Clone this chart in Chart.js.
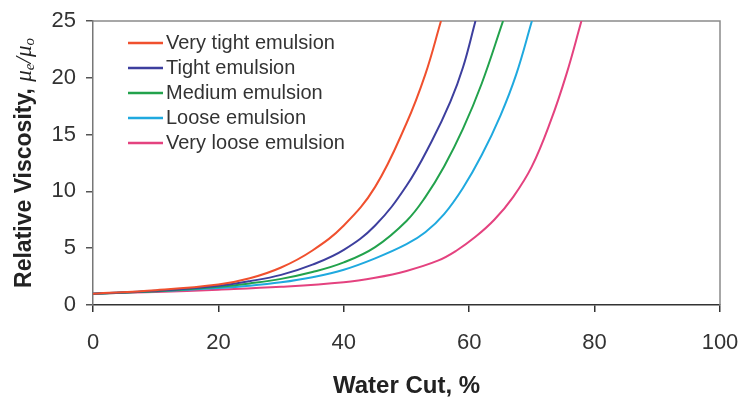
<!DOCTYPE html>
<html>
<head>
<meta charset="utf-8">
<script src="https://cdn.jsdelivr.net/npm/chart.js@4/dist/chart.umd.min.js"></script>
<style>
  html, body { margin: 0; padding: 0; background: #fff; }
  #wrap { width: 743px; height: 398px; }
</style>
</head>
<body>
<div id="wrap"><canvas id="c" width="743" height="398"></canvas></div>
<script>
// Relative viscosity of water-in-oil emulsions versus water cut
const seriesNames = ['Very tight emulsion', 'Tight emulsion', 'Medium emulsion', 'Loose emulsion', 'Very loose emulsion'];
const seriesColors = ['#f0502e', '#3d3f9e', '#22a24c', '#1fa9df', '#e4427f'];

const veryTightCut  = [0, 10, 20, 25, 30, 35, 40, 45, 50, 53, 55.5];
const veryTightVisc = [1, 1.3, 1.8, 2.35, 3.3, 4.8, 7.0, 10.4, 16.0, 20.3, 25];

const tightCut  = [0, 10, 20, 25, 30, 35, 40, 45, 50, 54, 57, 59, 61];
const tightVisc = [1, 1.25, 1.7, 2.1, 2.65, 3.55, 4.85, 7.0, 10.5, 14.4, 17.9, 20.9, 25];

const mediumCut  = [0, 10, 20, 25, 30, 35, 40, 45, 50, 53, 56, 59, 62, 65.4];
const mediumVisc = [1, 1.2, 1.6, 1.9, 2.3, 2.9, 3.75, 5.1, 7.4, 9.5, 12.2, 15.5, 19.5, 25];

const looseCut  = [0, 10, 20, 25, 30, 35, 40, 45, 50, 53, 56, 59, 62, 65, 67.5, 70];
const looseVisc = [1, 1.2, 1.5, 1.7, 2.0, 2.45, 3.1, 4.1, 5.35, 6.4, 8.0, 10.3, 13.2, 16.7, 20.3, 25];

const veryLooseCut  = [0, 10, 20, 30, 40, 45, 50, 55, 58, 61, 64, 67, 70, 73, 75.5, 77.9];
const veryLooseVisc = [1, 1.15, 1.35, 1.6, 2.0, 2.4, 3.0, 3.9, 4.8, 6.0, 7.5, 9.5, 12.2, 16.2, 20.3, 25];

const xTicks = [0, 20, 40, 60, 80, 100];
const yTicks = [0, 5, 10, 15, 20, 25];

const cuts = [veryTightCut, tightCut, mediumCut, looseCut, veryLooseCut];
const viscs = [veryTightVisc, tightVisc, mediumVisc, looseVisc, veryLooseVisc];

const datasets = seriesNames.map((name, i) => ({
  label: name,
  data: cuts[i].map((x, k) => ({ x: x, y: viscs[i][k] })),
  borderColor: seriesColors[i],
  backgroundColor: seriesColors[i],
  borderWidth: 2,
  pointRadius: 0,
  tension: 0.4,
  fill: false
}));

const SANS = '"Liberation Sans", Arial, sans-serif';

// Legend drawn inside the plot, top-left
const insideLegend = {
  id: 'insideLegend',
  afterDatasetsDraw(chart) {
    const ctx = chart.ctx;
    const area = chart.chartArea;
    ctx.save();
    ctx.font = '20px ' + SANS;
    ctx.textBaseline = 'middle';
    ctx.fillStyle = '#333';
    chart.data.datasets.forEach((ds, i) => {
      const y = area.top + 22 + i * 25;
      const x0 = area.left + 35;
      ctx.strokeStyle = ds.borderColor;
      ctx.lineWidth = 2.5;
      ctx.beginPath();
      ctx.moveTo(x0, y);
      ctx.lineTo(x0 + 35, y);
      ctx.stroke();
      ctx.fillText(ds.label, x0 + 38, y);
    });
    ctx.restore();
  }
};

// Gray frame on top and right of the plot area
const frame = {
  id: 'frame',
  beforeDatasetsDraw(chart) {
    const ctx = chart.ctx;
    const a = chart.chartArea;
    ctx.save();
    ctx.strokeStyle = '#8a8a8a';
    ctx.lineWidth = 1.5;
    ctx.beginPath();
    ctx.moveTo(a.left, a.top);
    ctx.lineTo(a.right, a.top);
    ctx.lineTo(a.right, a.bottom);
    ctx.stroke();
    ctx.restore();
  }
};

// Y axis title with Greek symbols and subscripts
const yTitle = {
  id: 'yTitle',
  afterDraw(chart) {
    const ctx = chart.ctx;
    const a = chart.chartArea;
    const runs = [
      { t: 'Relative Viscosity, ', f: 'bold 23px ' + SANS, dy: 0 },
      { t: 'μ', f: 'italic 23px "Liberation Serif", serif', dy: 0 },
      { t: 'e', f: 'italic 15px "Liberation Serif", serif', dy: 5 },
      { t: '/', f: 'italic 23px "Liberation Serif", serif', dy: 0 },
      { t: 'μ', f: 'italic 23px "Liberation Serif", serif', dy: 0 },
      { t: 'o', f: 'italic 15px "Liberation Serif", serif', dy: 5 }
    ];
    ctx.save();
    let total = 0;
    runs.forEach(r => { ctx.font = r.f; r.w = ctx.measureText(r.t).width; total += r.w; });
    ctx.translate(25, (a.top + a.bottom) / 2);
    ctx.rotate(-Math.PI / 2);
    ctx.fillStyle = '#222';
    ctx.textBaseline = 'middle';
    let x = -total / 2;
    runs.forEach(r => {
      ctx.font = r.f;
      ctx.fillText(r.t, x, r.dy);
      x += r.w;
    });
    ctx.restore();
  }
};

new Chart(document.getElementById('c'), {
  type: 'line',
  data: { datasets: datasets },
  options: {
    responsive: false,
    animation: false,
    devicePixelRatio: 1,
    layout: { padding: { left: 0, top: 21, right: 23, bottom: 0 } },
    plugins: {
      legend: { display: false },
      tooltip: { enabled: false }
    },
    scales: {
      x: {
        type: 'linear',
        min: 0,
        max: 100,
        afterFit(scale) { scale.height = 93; scale.paddingLeft = 0; scale.paddingRight = 0; },
        afterBuildTicks(scale) { scale.ticks = xTicks.map(v => ({ value: v })); },
        border: { display: true, color: '#333', width: 1.5 },
        grid: { display: true, drawOnChartArea: false, drawTicks: true, tickLength: 7, color: '#333', lineWidth: 1.5 },
        ticks: { color: '#333', font: { family: SANS, size: 22 }, padding: 18, maxRotation: 0 },
        title: {
          display: true,
          text: 'Water Cut, %',
          color: '#222',
          font: { family: SANS, size: 24, weight: 'bold', lineHeight: 1.0 },
          padding: { top: 0, bottom: 0 }
        }
      },
      y: {
        type: 'linear',
        min: 0,
        max: 25,
        afterFit(scale) { scale.width = 93; scale.paddingTop = 0; scale.paddingBottom = 0; },
        afterBuildTicks(scale) { scale.ticks = yTicks.map(v => ({ value: v })); },
        border: { display: true, color: '#777', width: 1.5 },
        grid: { display: true, drawOnChartArea: false, drawTicks: true, tickLength: 7, color: '#555', lineWidth: 1.5 },
        ticks: { color: '#333', font: { family: SANS, size: 22 }, padding: 10 }
      }
    }
  },
  plugins: [frame, insideLegend, yTitle]
});
</script>
</body>
</html>
